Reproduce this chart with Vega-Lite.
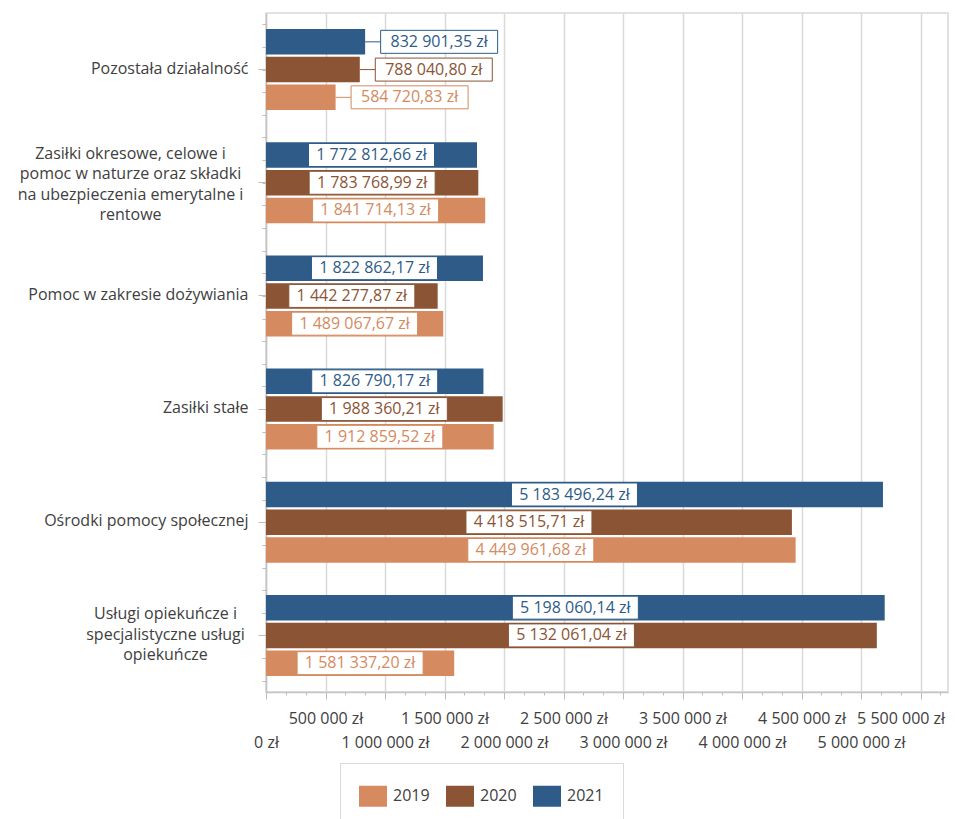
{
  "$schema": "https://vega.github.io/schema/vega-lite/v6.json",
  "width": 682,
  "height": 679,
  "autosize": {"type": "none"},
  "padding": {"left": 266, "top": 13, "right": 7, "bottom": 127},
  "background": "white",
  "config": {
    "locale": {"number": {"decimal": ",", "thousands": " ", "grouping": [3], "currency": ["", " zł"]}},
    "view": {"stroke": "#d9d9d9", "strokeWidth": 1.5},
    "font": "Open Sans",
    "axis": {"labelFont": "Open Sans", "labelFontSize": 16, "labelColor": "#404040", "titleFont": "Open Sans"},
    "legend": {"labelFont": "Open Sans"}
  },
  "datasets": {
    "d": [
      {"kategoria": "Pozostała działalność", "rok": "2019", "kwota": 584720.83},
      {"kategoria": "Pozostała działalność", "rok": "2020", "kwota": 788040.80},
      {"kategoria": "Pozostała działalność", "rok": "2021", "kwota": 832901.35},
      {"kategoria": "Zasiłki okresowe, celowe i pomoc w naturze oraz składki na ubezpieczenia emerytalne i rentowe", "rok": "2019", "kwota": 1841714.13},
      {"kategoria": "Zasiłki okresowe, celowe i pomoc w naturze oraz składki na ubezpieczenia emerytalne i rentowe", "rok": "2020", "kwota": 1783768.99},
      {"kategoria": "Zasiłki okresowe, celowe i pomoc w naturze oraz składki na ubezpieczenia emerytalne i rentowe", "rok": "2021", "kwota": 1772812.66},
      {"kategoria": "Pomoc w zakresie dożywiania", "rok": "2019", "kwota": 1489067.67},
      {"kategoria": "Pomoc w zakresie dożywiania", "rok": "2020", "kwota": 1442277.87},
      {"kategoria": "Pomoc w zakresie dożywiania", "rok": "2021", "kwota": 1822862.17},
      {"kategoria": "Zasiłki stałe", "rok": "2019", "kwota": 1912859.52},
      {"kategoria": "Zasiłki stałe", "rok": "2020", "kwota": 1988360.21},
      {"kategoria": "Zasiłki stałe", "rok": "2021", "kwota": 1826790.17},
      {"kategoria": "Ośrodki pomocy społecznej", "rok": "2019", "kwota": 4449961.68},
      {"kategoria": "Ośrodki pomocy społecznej", "rok": "2020", "kwota": 4418515.71},
      {"kategoria": "Ośrodki pomocy społecznej", "rok": "2021", "kwota": 5183496.24},
      {"kategoria": "Usługi opiekuńcze i specjalistyczne usługi opiekuńcze", "rok": "2019", "kwota": 1581337.20},
      {"kategoria": "Usługi opiekuńcze i specjalistyczne usługi opiekuńcze", "rok": "2020", "kwota": 5132061.04},
      {"kategoria": "Usługi opiekuńcze i specjalistyczne usługi opiekuńcze", "rok": "2021", "kwota": 5198060.14}
    ]
  },
  "data": {"name": "d"},
  "layer": [
    {
      "layer": [
        {
          "mark": {"type": "bar"},
          "encoding": {
            "y": {
              "field": "kategoria", "type": "nominal", "title": null,
              "scale": {"type": "band", "domain": ["Pozostała działalność", "Zasiłki okresowe, celowe i pomoc w naturze oraz składki na ubezpieczenia emerytalne i rentowe", "Pomoc w zakresie dożywiania", "Zasiłki stałe", "Ośrodki pomocy społecznej", "Usługi opiekuńcze i specjalistyczne usługi opiekuńcze"], "paddingInner": 0.284, "paddingOuter": 0.142},
              "axis": {
                "domainColor": "#c4c4c4", "domainWidth": 1.5, "tickColor": "#bdbdbd", "tickSize": 8, "grid": false,
                "labelLineHeight": 20.5, "labelLimit": 400, "labelBaseline": "middle",
                "labelExpr": "indexof(datum.value, 'Zasiłki okresowe') == 0 ? ['Zasiłki okresowe, celowe i', 'pomoc w naturze oraz składki', 'na ubezpieczenia emerytalne i', 'rentowe'] : indexof(datum.value, 'Usługi') == 0 ? ['Usługi opiekuńcze i', 'specjalistyczne usługi', 'opiekuńcze'] : datum.value",
                "labelAlign": {"condition": {"test": "indexof(datum.value, 'Zasiłki okresowe') == 0 || indexof(datum.value, 'Usługi') == 0", "value": "center"}, "value": "right"},
                "labelPadding": {"condition": [{"test": "indexof(datum.value, 'Zasiłki okresowe') == 0", "value": 128}, {"test": "indexof(datum.value, 'Usługi') == 0", "value": 93}], "value": 10},
                "labelOffset": {"condition": [{"test": "indexof(datum.value, 'Zasiłki okresowe') == 0", "value": -29}, {"test": "indexof(datum.value, 'Usługi') == 0", "value": -21}], "value": -1}
              }
            },
            "yOffset": {"field": "rok", "type": "nominal", "scale": {"type": "band", "domain": ["2021", "2020", "2019"], "paddingInner": 0.08, "paddingOuter": 0}},
            "x": {
              "field": "kwota", "type": "quantitative", "title": null,
              "scale": {"domain": [0, 5730000], "nice": false, "zero": true},
              "axis": {
                "values": [0, 500000, 1000000, 1500000, 2000000, 2500000, 3000000, 3500000, 4000000, 4500000, 5000000, 5500000],
                "format": "$,.0f",
                "labelExpr": "datum.value % 1000000 == 0 ? ['', datum.label] : datum.label",
                "labelOverlap": false, "labelFlush": false, "labelBound": false,
                "labelOffset": {"condition": {"test": "datum.value == 5500000", "value": -20}, "value": 0},
                "labelPadding": 11, "labelLineHeight": 24, "labelBaseline": "top",
                "tickSize": 7, "tickColor": "#bdbdbd",
                "domainColor": "#c4c4c4", "domainWidth": 1.5,
                "grid": true, "gridColor": "#d9d9d9", "gridWidth": 1.5
              }
            },
            "color": {
              "field": "rok", "type": "nominal",
              "scale": {"domain": ["2019", "2020", "2021"], "range": ["#d58a5f", "#8a5435", "#2e5b88"]},
              "legend": {"orient": "none", "legendX": 74, "legendY": 750, "direction": "horizontal", "title": null,
                "symbolType": "M-1,-0.75H1V0.75H-1Z", "symbolSize": 784, "labelFontSize": 16, "labelColor": "#404040",
                "padding": 19, "strokeColor": "#d9d9d9", "fillColor": "white", "columnPadding": 16, "labelOffset": 6, "symbolStrokeWidth": 0}
            }
          }
        },
        {
          "transform": [{"filter": "datum.kwota < 1000000"}],
          "mark": {"type": "point", "shape": "M0,0H1.55M1.55,-1.15H13.25V1.15H1.55Z", "size": 400, "filled": true, "fill": "white", "strokeWidth": 1, "opacity": 1},
          "encoding": {
            "y": {"field": "kategoria", "type": "nominal", "title": null},
            "yOffset": {"field": "rok", "type": "nominal"},
            "x": {"field": "kwota", "type": "quantitative", "title": null},
            "stroke": {"field": "rok", "type": "nominal", "scale": {"domain": ["2019", "2020", "2021"], "range": ["#d58a5f", "#8a5435", "#2e5b88"]}, "legend": null}
          }
        },
        {
          "transform": [{"filter": "datum.kwota < 1000000"}],
          "mark": {"type": "text", "align": "center", "baseline": "middle", "dx": 74, "font": "Open Sans", "fontSize": 16},
          "encoding": {
            "y": {"field": "kategoria", "type": "nominal", "title": null},
            "yOffset": {"field": "rok", "type": "nominal"},
            "x": {"field": "kwota", "type": "quantitative", "title": null},
            "text": {"field": "kwota", "type": "quantitative", "format": "$,.2f"},
            "color": {"field": "rok", "type": "nominal"}
          }
        }
      ]
    },
    {
      "transform": [{"filter": "datum.kwota >= 1000000"}],
      "encoding": {
        "y": {"field": "kategoria", "type": "nominal", "title": null, "axis": null,
          "scale": {"type": "band", "domain": ["Pozostała działalność", "Zasiłki okresowe, celowe i pomoc w naturze oraz składki na ubezpieczenia emerytalne i rentowe", "Pomoc w zakresie dożywiania", "Zasiłki stałe", "Ośrodki pomocy społecznej", "Usługi opiekuńcze i specjalistyczne usługi opiekuńcze"], "paddingInner": 0.284, "paddingOuter": 0.142}},
        "yOffset": {"field": "rok", "type": "nominal", "scale": {"type": "band", "domain": ["2021", "2020", "2019"], "paddingInner": 0.08, "paddingOuter": 0}},
        "x": {"field": "kwota", "type": "quantitative", "title": null, "axis": null, "scale": {"domain": [0, 11460000], "nice": false, "zero": true}}
      },
      "layer": [
        {
          "mark": {"type": "point", "shape": "M-6.3,-1.15H6.3V1.15H-6.3Z", "size": 400, "filled": true, "fill": "white", "strokeWidth": 1, "opacity": 1},
          "encoding": {
            "stroke": {"field": "rok", "type": "nominal", "scale": {"domain": ["2019", "2020", "2021"], "range": ["#d58a5f", "#8a5435", "#2e5b88"]}, "legend": null}
          }
        },
        {
          "mark": {"type": "text", "align": "center", "baseline": "middle", "font": "Open Sans", "fontSize": 16},
          "encoding": {
            "text": {"field": "kwota", "type": "quantitative", "format": "$,.2f"},
            "color": {"field": "rok", "type": "nominal"}
          }
        }
      ]
    },
    {
      "mark": {"type": "point", "opacity": 0},
      "encoding": {
        "x": {"datum": 0, "type": "quantitative", "title": null,
          "scale": {"domain": [0, 5730000], "nice": false, "zero": true},
          "axis": {"orient": "bottom", "values": [166666.67, 333333.33, 666666.67, 833333.33, 1166666.67, 1333333.33, 1666666.67, 1833333.33, 2166666.67, 2333333.33, 2666666.67, 2833333.33, 3166666.67, 3333333.33, 3666666.67, 3833333.33, 4166666.67, 4333333.33, 4666666.67, 4833333.33, 5166666.67, 5333333.33, 5666666.67],
            "labels": false, "domain": false, "grid": false, "tickSize": 3, "tickColor": "#bdbdbd", "title": null}},
        "y": {"datum": 0, "type": "quantitative", "title": null,
          "scale": {"domain": [0, 30], "nice": false, "zero": false},
          "axis": {"orient": "left", "values": [0.5, 1.5, 2.5, 3.5, 4.5, 5.5, 6.5, 7.5, 8.5, 9.5, 10.5, 11.5, 12.5, 13.5, 14.5, 15.5, 16.5, 17.5, 18.5, 19.5, 20.5, 21.5, 22.5, 23.5, 24.5, 25.5, 26.5, 27.5, 28.5, 29.5],
            "labels": false, "domain": false, "grid": false, "tickSize": 4, "tickColor": "#bdbdbd", "title": null}}
      }
    }
  ],
  "resolve": {
    "scale": {"x": "independent", "y": "independent", "yOffset": "independent"},
    "axis": {"x": "independent", "y": "independent"}
  }
}
